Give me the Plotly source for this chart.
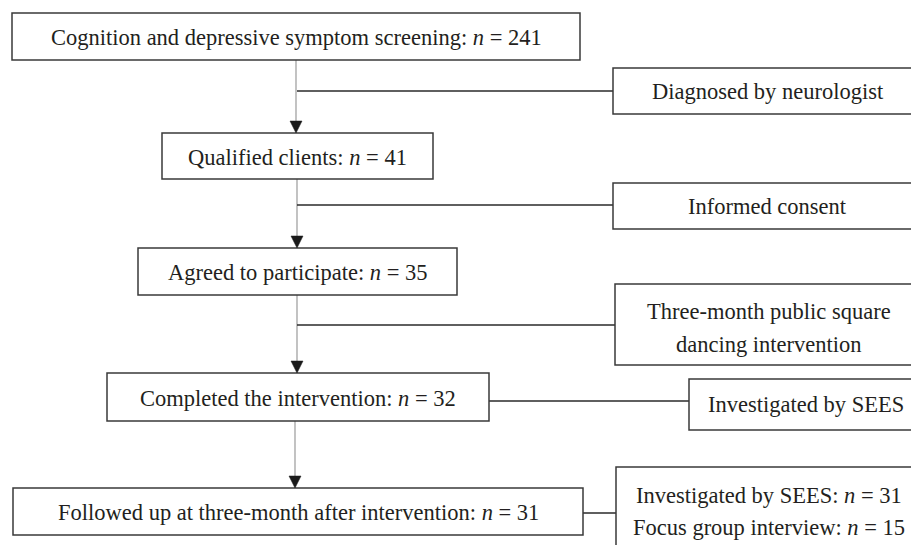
import plotly.graph_objects as go

# ---- data ----
main_labels = [
    "Cognition and depressive symptom screening",
    "Qualified clients",
    "Agreed to participate",
    "Completed the intervention",
    "Followed up at three-month after intervention",
]
main_n = [241, 41, 35, 32, 31]

side_labels = [
    ["Diagnosed by neurologist"],
    ["Informed consent"],
    ["Three-month public square", "dancing intervention"],
    ["Investigated by SEES"],
    ["Investigated by SEES: <i>n</i> = 31", "Focus group interview: <i>n</i> = 15"],
]

# ---- layout geometry (page pixels) ----
W, H = 919, 545
OFF = 8  # page body margin
main_boxes = [(12, 580, 13, 60), (162, 433, 133, 179), (138, 457, 248, 295),
              (107, 489, 373, 421), (13, 583, 488, 535)]
spine_x = [296, 297, 297, 295]
side_boxes = [(613, 922, 68, 114), (613, 922, 183, 229), (615, 922, 284, 365),
              (689, 922, 379, 430), (616, 922, 467, 560)]
side_conn = [(297, 91), (297, 205), (297, 325), (489, 401), (583, 513)]
side_text_y = [[91], [206], [311, 344], [404], [495, 527]]

FONT = "Liberation Serif, Times New Roman, serif"
FS = 22.5
TXT = "#231f20"
BOX = "#3a3a3a"

fig = go.Figure()
shapes, annots = [], []

for (x0, x1, y0, y1), lab, n in zip(main_boxes, main_labels, main_n):
    shapes.append(dict(type="rect", x0=x0, x1=x1, y0=y0, y1=y1,
                       line=dict(color=BOX, width=1.5), fillcolor="white", layer="above"))
    annots.append(dict(x=(x0 + x1) / 2, y=(y0 + y1) / 2 + 1, text=f"{lab}: <i>n</i> = {n}",
                       showarrow=False, font=dict(family=FONT, size=FS, color=TXT)))

# vertical connectors with arrowheads
for i, sx in enumerate(spine_x):
    ya = main_boxes[i][3]
    yb = main_boxes[i + 1][2]
    shapes.append(dict(type="line", x0=sx, x1=sx, y0=ya, y1=yb - 10,
                       line=dict(color="#9a9a9a", width=1.2), layer="below"))
    shapes.append(dict(type="path",
                       path=f"M {sx-6},{yb-12} L {sx+6},{yb-12} L {sx},{yb} Z",
                       fillcolor="#1a1a1a", line=dict(color="#1a1a1a", width=0.5)))

for (x0, x1, y0, y1), lines, (cx, cy), tys in zip(side_boxes, side_labels, side_conn, side_text_y):
    shapes.append(dict(type="rect", x0=x0, x1=x1, y0=y0, y1=y1,
                       line=dict(color=BOX, width=1.5), fillcolor="white"))
    shapes.append(dict(type="line", x0=cx, x1=x0, y0=cy, y1=cy,
                       line=dict(color="#2a2a2a", width=1.5), layer="below"))
    for t, ty in zip(lines, tys):
        annots.append(dict(x=(x0 + x1) / 2, y=ty, text=t, showarrow=False,
                           font=dict(family=FONT, size=FS, color=TXT)))

fig.update_layout(
    width=W - OFF, height=H - OFF, margin=dict(l=0, r=0, t=0, b=0),
    paper_bgcolor="white", plot_bgcolor="white",
    xaxis=dict(range=[OFF, W], visible=False, fixedrange=True),
    yaxis=dict(range=[H, OFF], visible=False, fixedrange=True),
    shapes=shapes, annotations=annots, showlegend=False,
)
fig.write_html("out.html")
